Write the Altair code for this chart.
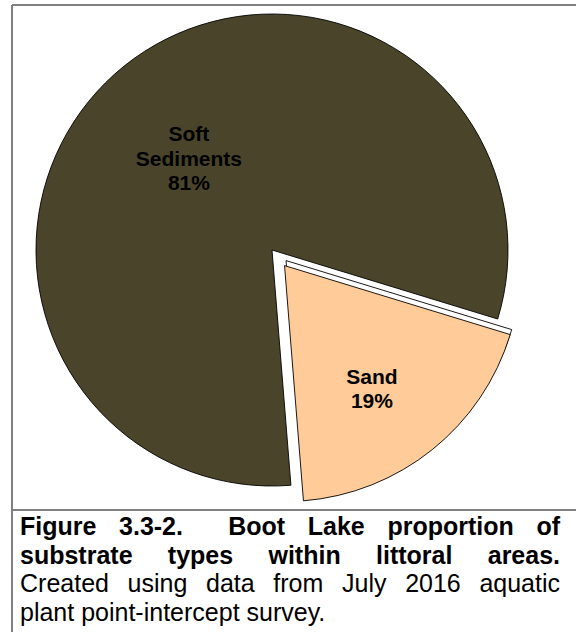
import math
import altair as alt
import pandas as pd

# Substrate shares (percent of littoral sample points)
categories = ["Sand", "Soft Sediments"]
shares = [19, 81]
slice_colors = ["#FFCC99", "#4A452A"]

caption_lines = [
    "Figure 3.3-2.  Boot Lake proportion of",
    "substrate types within littoral areas.",
    "Created using data from July 2016 aquatic",
    "plant point-intercept survey.",
]
caption_bold = [True, True, False, False]
caption_justified = [True, True, True, False]

# Layout / styling
W, H = 576, 632
CX, CY, R = 272, 250, 236          # pie centre and radius (px)
START_DEG = 107                    # first slice starts here, clockwise from 12 o'clock
explode_px = {"Sand": 20, "Soft Sediments": 0}
label_radius = {"Sand": 0.644, "Soft Sediments": 0.519}
label_turn_deg = {"Sand": 3.7, "Soft Sediments": -3.9}
LABEL_SIZE, LABEL_LH = 21, 24.5
shadow_dx, shadow_dy = 1.5, -5.0
BORDER = "#808080"
CAP_FONT = 25
CAP_X0, CAP_X1 = 20, 560
CAP_BASELINES = [535, 563.5, 592, 620.5]
FONT = "Liberation Sans"

a0 = math.radians(START_DEG)

# Arial-compatible advance widths (per 1000 em) for caption justification
_reg = dict(zip("abcdefghijklmnopqrstuvwxyz", [556, 556, 500, 556, 556, 278, 556, 556, 222, 222, 500, 222, 833,
                                                556, 556, 556, 556, 333, 500, 278, 556, 500, 722, 500, 500, 500]))
_bold = dict(zip("abcdefghijklmnopqrstuvwxyz", [556, 611, 556, 611, 556, 333, 611, 611, 278, 278, 556, 278, 889,
                                                 611, 611, 611, 611, 389, 556, 333, 611, 556, 778, 556, 556, 500]))
_common = {" ": 278, ".": 278, "-": 333, "%": 889, **{d: 556 for d in "0123456789"}}
_upper_reg = {"F": 611, "B": 667, "L": 556, "C": 722, "J": 500}
_upper_bold = {"F": 611, "B": 722, "L": 611, "C": 722, "J": 556}


def text_width(s, bold, size):
    table = {**_common, **(_bold if bold else _reg), **(_upper_bold if bold else _upper_reg)}
    return sum(table.get(ch, 556) for ch in s) * size / 1000.0


rows = []
for line, bold, just, base_y in zip(caption_lines, caption_bold, caption_justified, CAP_BASELINES):
    pieces = line.split(" ")
    space_w = text_width(" ", bold, CAP_FONT)
    n_space = len(pieces) - 1
    extra = 0.0
    if just and n_space > 0:
        natural = sum(text_width(p, bold, CAP_FONT) for p in pieces) + n_space * space_w
        extra = (CAP_X1 - CAP_X0 - natural) / n_space
    x = CAP_X0
    for i, p in enumerate(pieces):
        if p:
            rows.append({"word": p, "x": x, "y": base_y, "bold": bold})
            x += text_width(p, bold, CAP_FONT)
        if i < n_space:
            x += space_w + extra
caption_df = pd.DataFrame(rows)

pie_df = pd.DataFrame({"category": categories, "share": shares})


def per_category(mapping, default):
    return " : ".join(f"datum.category == '{k}' ? {v}" for k, v in mapping.items()) + f" : {default}"


# label block: category words + percentage, one per line
n_lines = {c: len(c.split()) + 1 for c in categories}

base = (
    alt.Chart(pie_df)
    .transform_window(s1="sum(share)", frame=[None, 0])
    .transform_calculate(s0="datum.s1 - datum.share")
    .transform_calculate(mid=f"{a0} + PI * (datum.s0 + datum.s1) / 100")
    .transform_calculate(
        ex=per_category(explode_px, 0),
        lr=per_category(label_radius, 0.5),
        lt=per_category({k: math.radians(v) for k, v in label_turn_deg.items()}, 0),
        nl=per_category(n_lines, 1),
    )
    .transform_calculate(
        cx=f"{CX} + datum.ex * sin(datum.mid)",
        cy=f"{CY} - datum.ex * cos(datum.mid)",
        la="datum.mid + datum.lt",
    )
    .transform_calculate(
        lx=f"datum.cx + datum.lr * {R} * sin(datum.la)",
        ly=f"datum.cy - datum.lr * {R} * cos(datum.la) - (datum.nl - 1) * {LABEL_LH} / 2",
        label="datum.category + ' ' + datum.share + '%'",
    )
)

theta_scale = alt.Scale(domain=[0, 100], range=[a0, a0 + 2 * math.pi])

# offset outline behind the exploded slice
shadow = (
    base.transform_filter("datum.ex > 0")
    .transform_calculate(sx=f"datum.cx + {shadow_dx}", sy=f"datum.cy + {shadow_dy}")
    .mark_arc(radius=R, fill="white", stroke="black", strokeWidth=0.9)
    .encode(
        theta=alt.Theta("s0:Q", scale=theta_scale),
        theta2="s1:Q",
        x=alt.X("sx:Q", scale=None),
        y=alt.Y("sy:Q", scale=None),
    )
)

slices = base.mark_arc(radius=R, stroke="black", strokeWidth=0.9).encode(
    theta=alt.Theta("s0:Q", scale=theta_scale),
    theta2="s1:Q",
    x=alt.X("cx:Q", scale=None),
    y=alt.Y("cy:Q", scale=None),
    color=alt.Color("category:N", scale=alt.Scale(domain=categories, range=slice_colors), legend=None),
)

labels = base.mark_text(
    font=FONT, fontSize=LABEL_SIZE, fontWeight="bold", color="black",
    lineBreak=" ", lineHeight=LABEL_LH, align="center", baseline="middle",
).encode(
    x=alt.X("lx:Q", scale=None),
    y=alt.Y("ly:Q", scale=None),
    text="label:N",
)


def caption_layer(bold):
    return (
        alt.Chart(caption_df[caption_df["bold"] == bold])
        .mark_text(font=FONT, fontSize=CAP_FONT, fontWeight="bold" if bold else "normal",
                   color="black", align="left", baseline="alphabetic")
        .encode(x=alt.X("x:Q", scale=None), y=alt.Y("y:Q", scale=None), text="word:N")
    )


border_df = pd.DataFrame({"k": [0]})
left_rule = alt.Chart(border_df).mark_rule(color=BORDER, strokeWidth=2).encode(
    x=alt.value(12), y=alt.value(5), y2=alt.value(H)
)
top_rule = alt.Chart(border_df).mark_rule(color=BORDER, strokeWidth=2).encode(
    x=alt.value(12), x2=alt.value(W), y=alt.value(5)
)
mid_rule = alt.Chart(border_df).mark_rule(color=BORDER, strokeWidth=2).encode(
    x=alt.value(12), x2=alt.value(W), y=alt.value(510)
)

chart = (
    alt.layer(shadow, slices, labels, caption_layer(True), caption_layer(False),
              left_rule, top_rule, mid_rule)
    .properties(width=W, height=H, autosize="none", padding=0, background="white")
    .configure_view(stroke=None)
)

chart.save("out.html", embed_options={"renderer": "svg", "actions": False})
